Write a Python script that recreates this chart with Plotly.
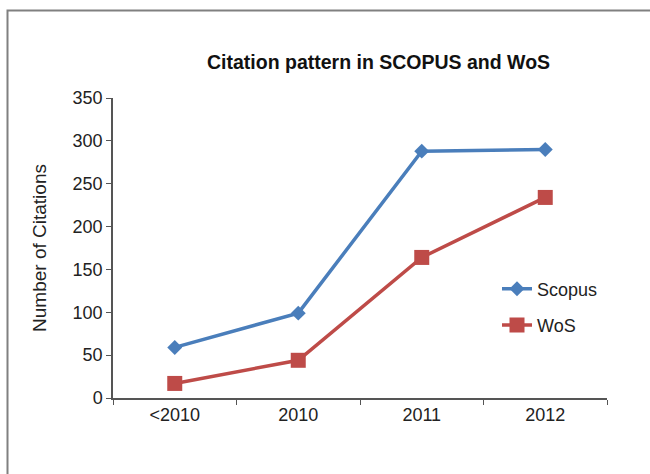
import plotly.graph_objects as go

categories = ["<2010", "2010", "2011", "2012"]
scopus = [59, 99, 288, 290]
wos = [17, 44, 164, 234]
y_ticks = [0, 50, 100, 150, 200, 250, 300, 350]

fig = go.Figure()
fig.add_trace(go.Scatter(
    x=categories, y=scopus, name="Scopus", mode="lines+markers",
    legendgroup="a",
    line=dict(color="#4a7ebb", width=3.5),
    marker=dict(symbol="diamond", size=11.5, color="#4a7ebb"),
))
fig.add_trace(go.Scatter(
    x=categories, y=wos, name="WoS", mode="lines+markers",
    legendgroup="b",
    line=dict(color="#be4b48", width=3.5),
    marker=dict(symbol="square", size=15, color="#be4b48"),
))

L, R, T, B = 113, 43, 98, 76
W, H = 650, 474
pw, ph = W - L - R, H - T - B

def px(x):
    return (x - L) / pw

def py(y):
    return (H - B - y) / ph

font = "Liberation Sans, Arial, sans-serif"
fig.update_layout(
    width=W, height=H,
    margin=dict(l=L, r=R, t=T, b=B),
    paper_bgcolor="white", plot_bgcolor="white",
    font=dict(family=font, size=18, color="#222"),
    showlegend=True,
    legend=dict(x=px(497), y=py(307), xanchor="left", yanchor="middle",
                bgcolor="rgba(0,0,0,0)", font=dict(size=18, color="#222"),
                tracegroupgap=10, itemwidth=30),
    xaxis=dict(type="category", range=[-0.5, 3.5], showline=True,
               linecolor="#555", linewidth=1.5, ticks="outside",
               tickson="boundaries", ticklen=5, tickcolor="#555",
               showgrid=False, zeroline=False),
    yaxis=dict(range=[0, 350], tickvals=y_ticks, showline=True,
               linecolor="#555", linewidth=1.5, ticks="outside", ticklen=5,
               tickcolor="#555", showgrid=False, zeroline=False,
               title=dict(text="Number of Citations", standoff=21,
                          font=dict(size=19, color="#222"))),
    annotations=[dict(text="<b>Citation pattern in SCOPUS and WoS</b>",
                      x=px(378), y=py(62), xref="paper", yref="paper",
                      xanchor="center", yanchor="middle",
                      showarrow=False, font=dict(size=19.5, color="#111"))],
    shapes=[dict(type="rect", xref="paper", yref="paper",
                 x0=px(7.5), y0=py(520), x1=px(720), y1=py(10.5),
                 line=dict(color="#808080", width=2), layer="below")],
)

fig.write_html("out.html", config={"displayModeBar": False},
               post_script="document.body.style.margin='0';")
